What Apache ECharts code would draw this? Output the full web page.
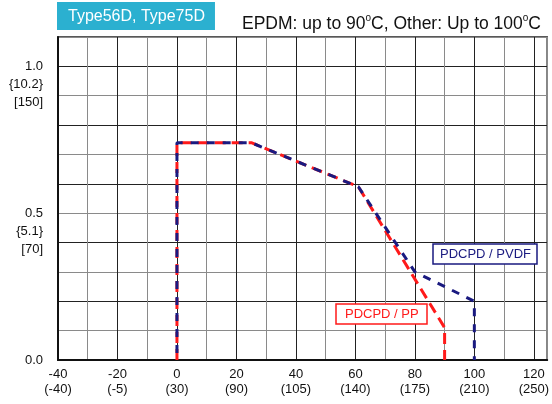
<!DOCTYPE html>
<html>
<head>
<meta charset="utf-8">
<script src="https://cdn.jsdelivr.net/npm/echarts@6/dist/echarts.min.js"></script>
<style>
html,body{margin:0;padding:0;background:#fff;}
#chart{width:552px;height:404px;}
</style>
</head>
<body>
<div id="chart"></div>
<script>
// ---- data ----
var ppX = [0, 0, 25, 61, 90, 90];
var ppY = [0, 0.74, 0.74, 0.59, 0.11, 0];
var pvdfX = [0, 0, 25, 61, 80, 100, 100];
var pvdfY = [0, 0.74, 0.74, 0.59, 0.30, 0.20, 0];

var xTickValues = [-40, -20, 0, 20, 40, 60, 80, 100, 120];
var xTickSub = ['(-40)', '(-5)', '(30)', '(90)', '(105)', '(140)', '(175)', '(210)', '(250)'];

var yTickValues = [0, 0.5, 1.0];
var yTickMain = ['0.0', '0.5', '1.0'];
var yTickSub1 = ['', '{5.1}', '{10.2}'];
var yTickSub2 = ['', '[70]', '[150]'];

var seriesNames = ['PDCPD / PP', 'PDCPD / PVDF'];
var seriesColors = ['#ff1a1a', '#1a1a80'];

function zip(xs, ys) { return xs.map(function (x, i) { return [x, ys[i]]; }); }

var FONT = '"Liberation Sans", Arial, sans-serif';

var chart = echarts.init(document.getElementById('chart'), null, {renderer: 'canvas'});
chart.setOption({
  animation: false,
  backgroundColor: '#fff',
  title: [
    {
      text: 'Type56D, Type75D',
      left: 57, top: 2,
      backgroundColor: '#2bb0d0',
      padding: [6, 10, 5, 11],
      textStyle: {color: '#fff', fontSize: 16, fontWeight: 'normal', fontFamily: FONT, lineHeight: 17}
    },
    {
      text: '{a|EPDM: up to 90}{s|o}{a|C, Other: Up to 100}{s|o}{a|C}',
      right: 6, top: 8,
      textStyle: {
        fontWeight: 'normal',
        rich: {
          a: {fontSize: 17.5, fontWeight: 'normal', color: '#111', fontFamily: FONT, lineHeight: 20, verticalAlign: 'bottom'},
          s: {fontSize: 10, fontWeight: 'normal', color: '#111', fontFamily: FONT, lineHeight: 20, verticalAlign: 'top', padding: [0, 0, 8, 0]}
        }
      }
    },
    {
      text: seriesNames[1],
      left: 433, top: 244,
      backgroundColor: '#fff',
      borderColor: seriesColors[1], borderWidth: 1.5,
      padding: [3, 6, 2, 7],
      textStyle: {color: seriesColors[1], fontSize: 13, fontWeight: 'normal', fontFamily: FONT, lineHeight: 15}
    },
    {
      text: seriesNames[0],
      left: 336, top: 304,
      backgroundColor: '#fff',
      borderColor: seriesColors[0], borderWidth: 1.5,
      padding: [3, 9, 2, 9],
      textStyle: {color: seriesColors[0], fontSize: 13, fontWeight: 'normal', fontFamily: FONT, lineHeight: 15}
    }
  ],
  grid: {left: 58, right: 3, top: 37, bottom: 44, show: true, borderColor: '#222', borderWidth: 1.5, backgroundColor: 'transparent'},
  xAxis: {
    type: 'value', min: -40, max: 124.5, interval: 10,
    axisLine: {show: true, onZero: false, lineStyle: {color: '#111', width: 2}},
    axisTick: {show: false},
    splitLine: {show: true, lineStyle: {color: ['#222', '#8a8a8a'], width: 1}},
    axisLabel: {
      interval: 0, margin: 7, color: '#111', fontSize: 13, fontFamily: FONT, lineHeight: 15,
      showMaxLabel: true,
      formatter: function (v) {
        var i = xTickValues.indexOf(Math.round(v));
        if (i < 0 || Math.abs(v - Math.round(v)) > 1e-6) return '';
        return xTickValues[i] + '\n' + xTickSub[i];
      }
    }
  },
  yAxis: {
    type: 'value', min: 0, max: 1.1, interval: 0.1,
    axisLine: {show: true, onZero: false, lineStyle: {color: '#111', width: 2}},
    axisTick: {show: false},
    splitLine: {show: true, lineStyle: {color: ['#222', '#8a8a8a'], width: 1}},
    axisLabel: {
      interval: 0, margin: 15, color: '#111', fontSize: 13, fontFamily: FONT, lineHeight: 18,
      formatter: function (v) {
        var r = Math.round(v * 10) / 10;
        for (var i = 0; i < yTickValues.length; i++) {
          if (Math.abs(yTickValues[i] - r) < 1e-6 && Math.abs(v - r) < 1e-6) {
            if (!yTickSub1[i]) return yTickMain[i];
            return '\n\n' + yTickMain[i] + '\n' + yTickSub1[i] + '\n' + yTickSub2[i];
          }
        }
        return '';
      }
    }
  },
  series: [
    {
      name: seriesNames[0], type: 'line', data: zip(ppX, ppY), symbol: 'none', z: 3,
      lineStyle: {color: seriesColors[0], width: 3, type: [11, 6]}
    },
    {
      name: seriesNames[1], type: 'line', data: zip(pvdfX, pvdfY), symbol: 'none', z: 4,
      lineStyle: {color: seriesColors[1], width: 3, type: [8, 8], dashOffset: 9}
    }
  ]
});
</script>
</body>
</html>
